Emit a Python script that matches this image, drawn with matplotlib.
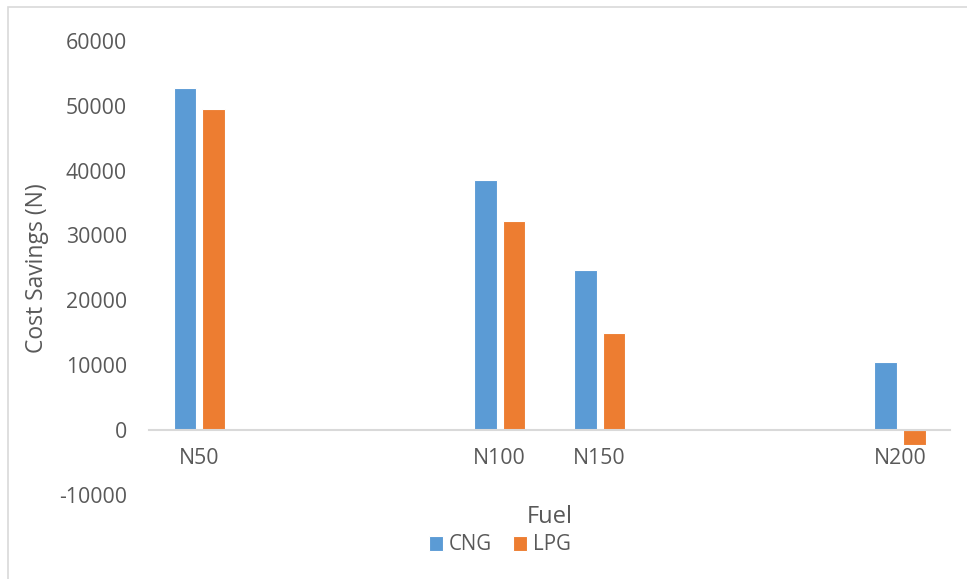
import matplotlib.pyplot as plt
import numpy as np

# Excel-style category axis with empty slots between groups
categories = ["N50", "", "", "N100", "N150", "", "", "N200"]
cng = [52700, np.nan, np.nan, 38600, 24600, np.nan, np.nan, 10500]
lpg = [49500, np.nan, np.nan, 32200, 14900, np.nan, np.nan, -2400]
yticks = [-10000, 0, 10000, 20000, 30000, 40000, 50000, 60000]

plt.rcParams['font.family'] = ['Open Sans', 'DejaVu Sans']
grey = '#595959'

fig = plt.figure(figsize=(9.67, 5.79), dpi=100)
ax = fig.add_axes([0.1544, 0.1456, 0.8280, 0.7836])

x = np.arange(len(categories))
w = 0.225
ax.bar(x - 0.143, cng, w, color='#5B9BD5', edgecolor='white', linewidth=0.8, label='CNG')
ax.bar(x + 0.143, lpg, w, color='#ED7D31', edgecolor='white', linewidth=0.8, label='LPG')

ax.set_xlim(-0.5, len(categories) - 0.5)
ax.set_ylim(-10000, 60000)
ax.set_yticks(yticks)
ax.set_yticklabels([str(v) for v in yticks])
ax.set_xticks(x)
ax.set_xticklabels(categories)

for s in ['top', 'right', 'left']:
    ax.spines[s].set_visible(False)
ax.spines['bottom'].set_position(('data', 0))
ax.spines['bottom'].set_color('#D9D9D9')
ax.spines['bottom'].set_linewidth(1.5)

ax.tick_params(axis='both', length=0, labelsize=15.3, colors=grey)
ax.tick_params(axis='y', pad=16)
ax.tick_params(axis='x', pad=13)

ax.set_xlabel('Fuel', fontsize=17, color=grey)
ax.xaxis.set_label_coords(0.5, -0.049)
ax.xaxis.label.set_va('center')
ax.set_ylabel('Cost Savings (N)', fontsize=16.5, color=grey)
ax.yaxis.set_label_coords(-0.140, 0.5)
ax.yaxis.label.set_va('center')

fig.legend(loc='center', bbox_to_anchor=(500 / 967, 1 - 545 / 579), ncol=2,
           frameon=False, fontsize=14.8, labelcolor=grey, handlelength=0.7,
           handleheight=0.7, handletextpad=0.3, columnspacing=1.0)

# light chart border
border = plt.Rectangle((7.5 / 967, -0.01), 1.02, 1 - 7 / 579 + 0.01, transform=fig.transFigure,
                       fill=False, edgecolor='#D9D9D9', linewidth=1.2)
fig.patches.append(border)

fig.savefig('out.png', dpi=100)
